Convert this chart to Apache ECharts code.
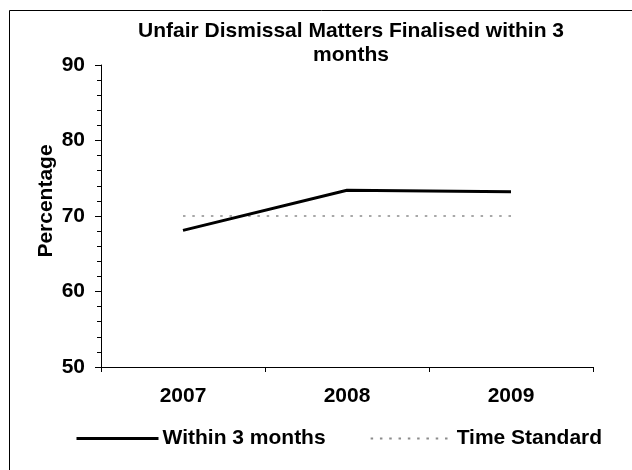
<!DOCTYPE html>
<html>
<head>
<meta charset="utf-8">
<script src="https://cdn.jsdelivr.net/npm/echarts@6/dist/echarts.min.js"></script>
<style>
  html, body { margin: 0; padding: 0; background: #fff; }
  #chart { width: 632px; height: 470px; }
</style>
</head>
<body>
<div id="chart"></div>
<script>
  var years = ['2007', '2008', '2009'];
  var within3Months = [68.1, 73.4, 73.2];
  var timeStandard = [70, 70, 70];
  var yTicks = { min: 50, max: 90, interval: 10 };

  var font = 'Liberation Sans, Arial, sans-serif';
  var fs = 21;
  var dom = echarts.init(document.getElementById('chart'));

  var option = {
    animation: false,
    backgroundColor: '#fff',
    title: {
      text: 'Unfair Dismissal Matters Finalised within 3\nmonths',
      left: 351,
      top: 19,
      padding: 0,
      textAlign: 'center',
      textStyle: { fontFamily: font, fontSize: fs, fontWeight: 'bold', color: '#000', lineHeight: 24 }
    },
    graphic: [{
      type: 'rect',
      shape: { x: 9.5, y: 10.5, width: 700, height: 600 },
      style: { fill: 'none', stroke: '#000', lineWidth: 1 },
      silent: true
    }],
    legend: {
      left: 75,
      top: 428,
      padding: 0,
      itemWidth: 82,
      itemHeight: 20,
      itemGap: 44,
      itemStyle: { color: 'rgba(0,0,0,0)', borderWidth: 0 },
      textStyle: { fontFamily: font, fontSize: fs, fontWeight: 'bold', color: '#000', padding: [0, 0, 0, -1] },
      data: [
        { name: 'Within 3 months', lineStyle: { width: 3, color: '#000' } },
        { name: 'Time Standard' }
      ]
    },
    grid: { left: 101, right: 39, top: 65, bottom: 103 },
    xAxis: {
      type: 'category',
      data: years,
      boundaryGap: true,
      axisLine: { lineStyle: { color: '#000', width: 1 } },
      axisTick: { show: true, length: 5, lineStyle: { color: '#000' } },
      axisLabel: { margin: 19, fontFamily: font, fontSize: fs, fontWeight: 'bold', color: '#000' },
      splitLine: { show: false }
    },
    yAxis: {
      type: 'value',
      min: yTicks.min,
      max: yTicks.max,
      interval: yTicks.interval,
      name: 'Percentage',
      nameLocation: 'middle',
      nameRotate: 90,
      nameGap: 44,
      nameMoveOverlap: false,
      nameTextStyle: { fontFamily: font, fontSize: fs, fontWeight: 'bold', color: '#000', padding: [0, 0, 0, 30] },
      axisLine: { show: true, lineStyle: { color: '#000', width: 1 } },
      axisTick: { show: true, length: 6, lineStyle: { color: '#000' } },
      minorTick: { show: true, splitNumber: 5, length: 4, lineStyle: { color: '#000' } },
      axisLabel: { margin: 16, fontFamily: font, fontSize: fs, fontWeight: 'bold', color: '#000' },
      splitLine: { show: false }
    },
    series: [{
      name: 'Within 3 months',
      type: 'line',
      symbol: 'none',
      data: within3Months,
      lineStyle: { color: '#000', width: 3 },
      itemStyle: { color: '#000' },
      z: 3
    }, {
      name: 'Time Standard',
      type: 'line',
      symbol: 'none',
      data: timeStandard,
      lineStyle: { color: '#8c8c8c', width: 1.5, type: [2.5, 6.8] },
      itemStyle: { color: '#8c8c8c' },
      z: 2
    }]
  };

  dom.setOption(option);
</script>
</body>
</html>
